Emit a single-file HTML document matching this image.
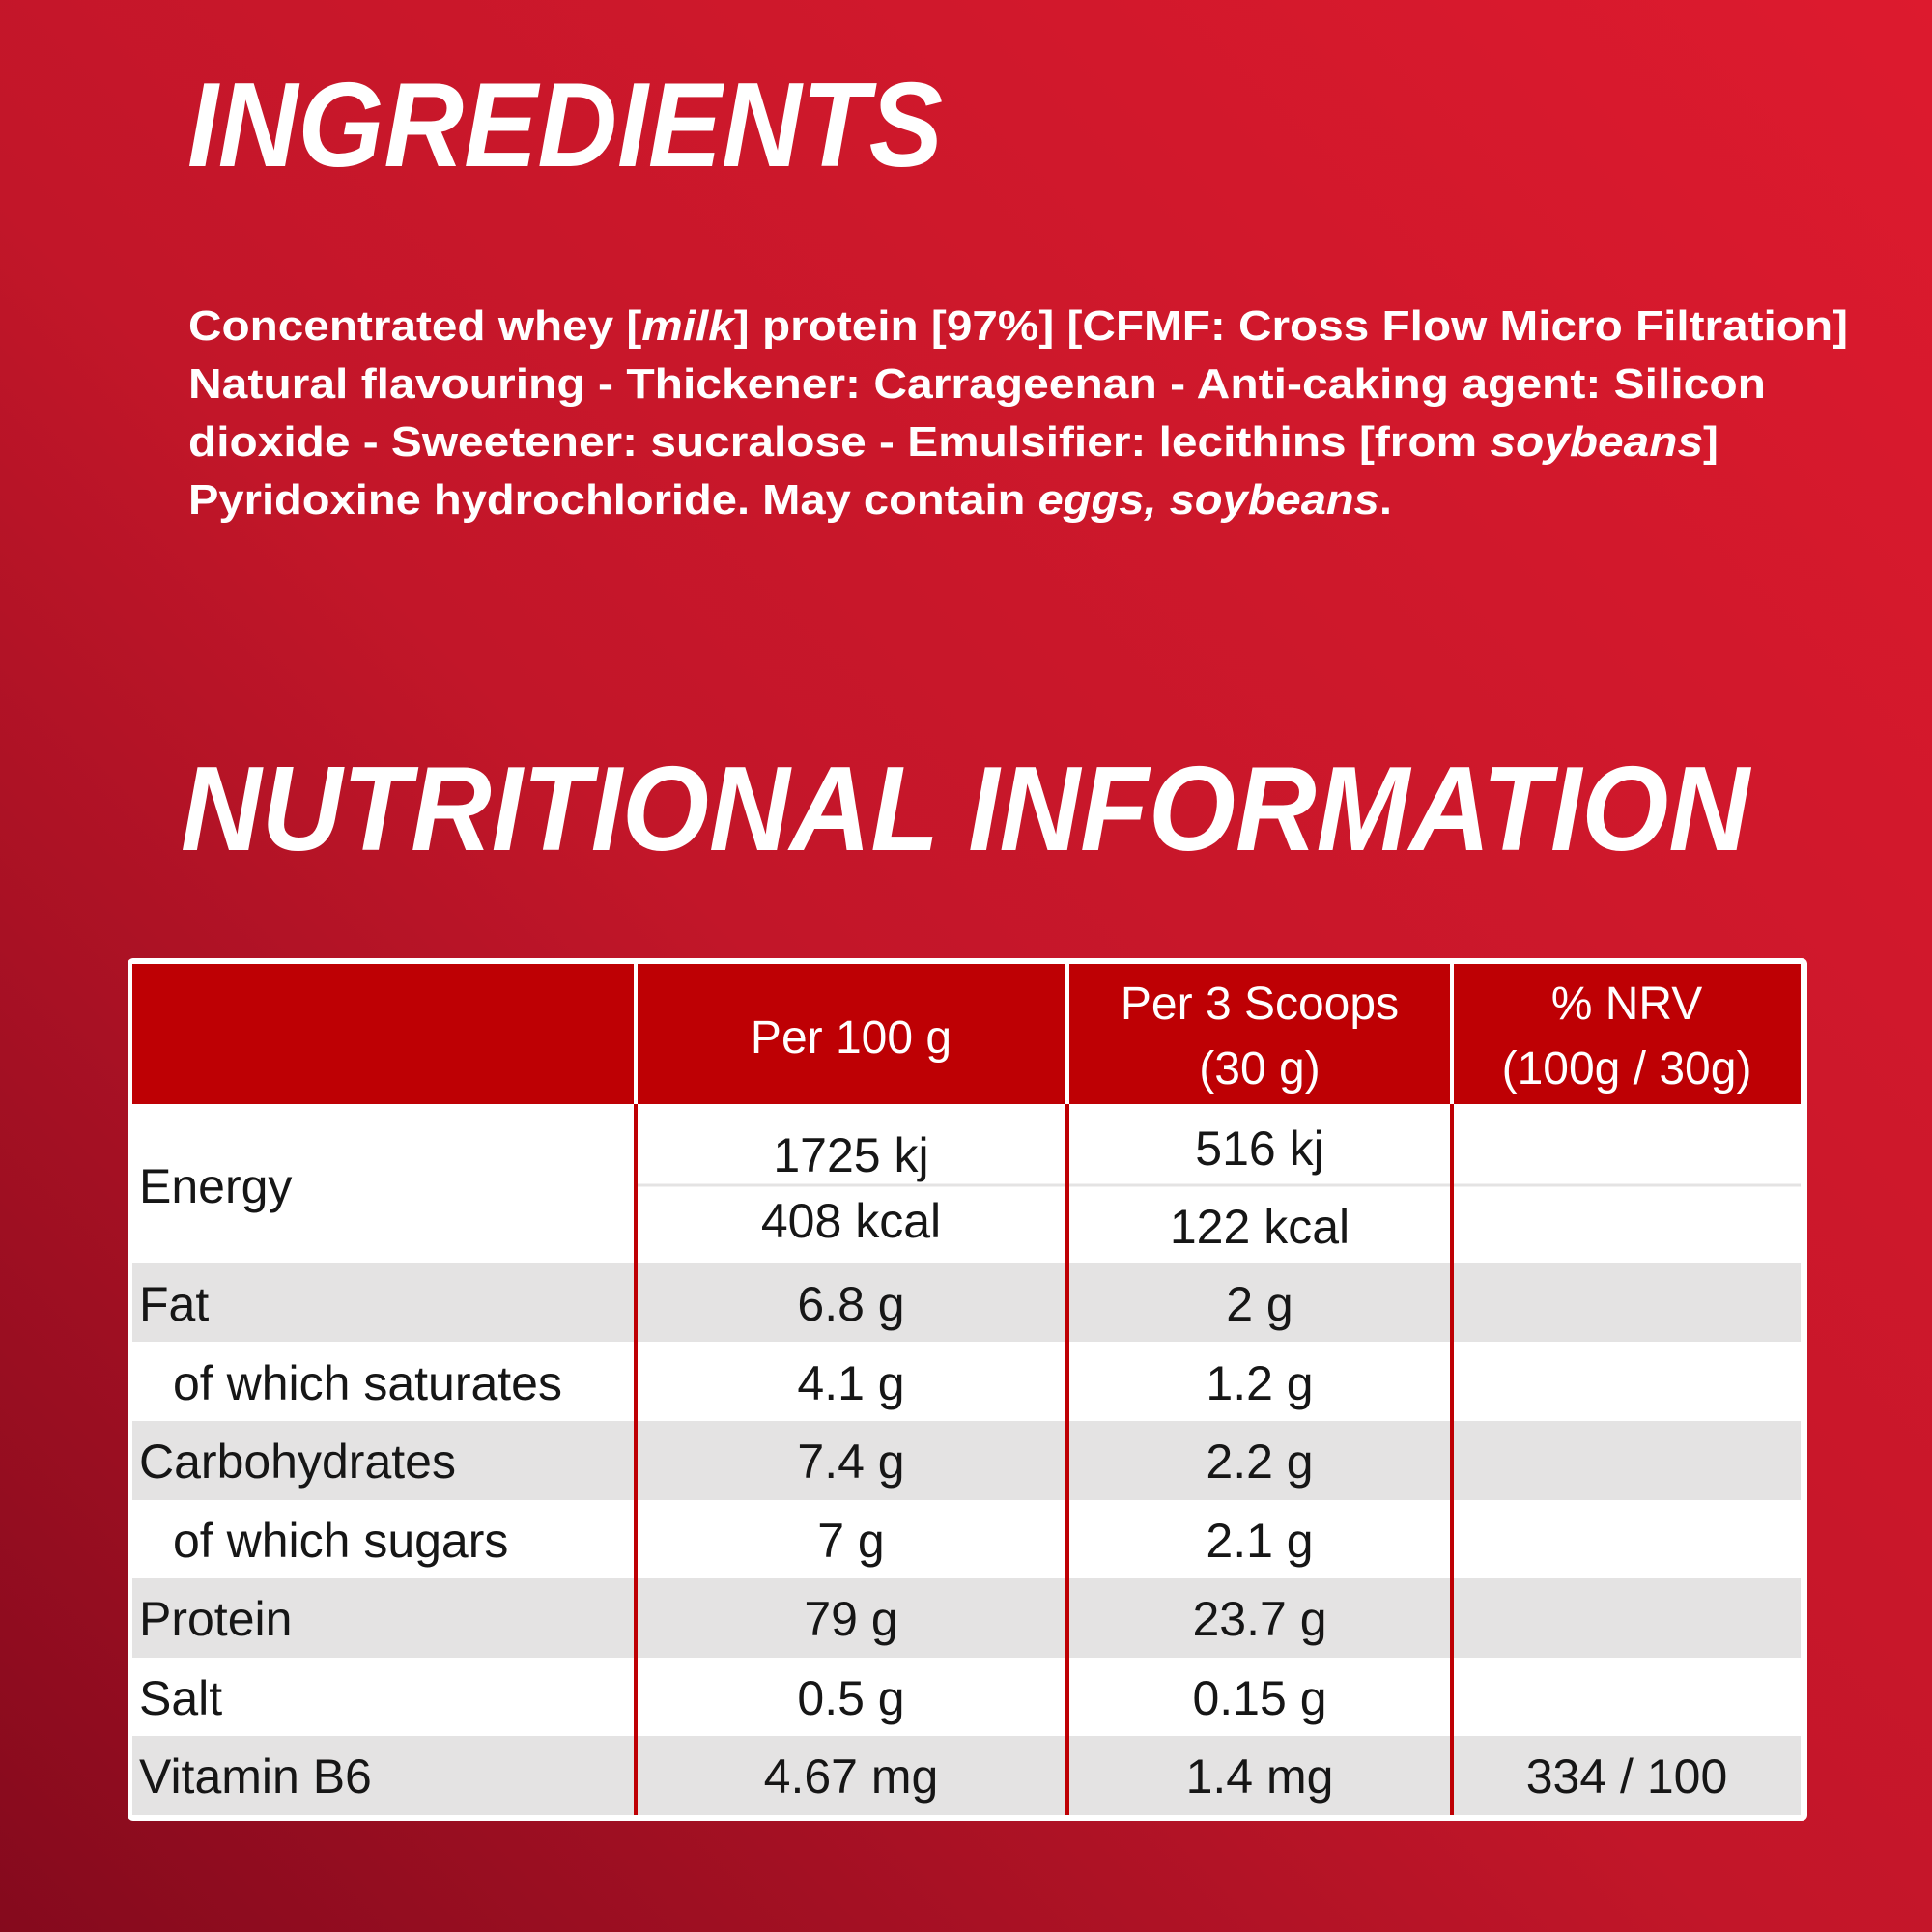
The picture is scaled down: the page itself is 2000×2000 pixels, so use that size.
<!DOCTYPE html>
<html><head><meta charset="utf-8"><style>
html,body{margin:0;padding:0;width:2000px;height:2000px;overflow:hidden}
svg{display:block}
.t{font-family:"Liberation Sans Narrow","Liberation Sans",sans-serif;font-size:50px;fill:#161616}
.h{font-family:"Liberation Sans Narrow","Liberation Sans",sans-serif;font-size:48px;fill:#fff}
.ing{font-family:"Liberation Sans",sans-serif;font-weight:bold;font-size:44px;fill:#fff}
.ttl{font-family:"Liberation Sans",sans-serif;font-weight:bold;font-style:italic;font-size:124px;fill:#fff}
</style></head><body>
<svg width="2000" height="2000" viewBox="0 0 2000 2000" xmlns="http://www.w3.org/2000/svg">
<defs><linearGradient id="bg" x1="0" y1="1" x2="1" y2="0">
<stop offset="0" stop-color="#850a1d"/><stop offset="0.45" stop-color="#c21629"/><stop offset="1" stop-color="#dd1a2e"/></linearGradient></defs>
<rect width="2000" height="2000" fill="url(#bg)"/>
<text class="ttl" x="194" y="172" textLength="782" lengthAdjust="spacingAndGlyphs">INGREDIENTS</text>
<g class="ing">
<text x="195" y="352" textLength="1718" lengthAdjust="spacingAndGlyphs">Concentrated whey [<tspan font-style="italic">milk</tspan>] protein [97%] [CFMF: Cross Flow Micro Filtration]</text>
<text x="195" y="412" textLength="1633" lengthAdjust="spacingAndGlyphs">Natural flavouring - Thickener: Carrageenan - Anti-caking agent: Silicon</text>
<text x="195" y="472" textLength="1584" lengthAdjust="spacingAndGlyphs">dioxide - Sweetener: sucralose - Emulsifier: lecithins [from <tspan font-style="italic">soybeans</tspan>]</text>
<text x="195" y="532" textLength="1246" lengthAdjust="spacingAndGlyphs">Pyridoxine hydrochloride. May contain <tspan font-style="italic">eggs, soybeans</tspan>.</text>
</g>
<text class="ttl" x="187" y="880" textLength="1624" lengthAdjust="spacingAndGlyphs">NUTRITIONAL INFORMATION</text>
<rect x="132" y="992" width="1739" height="893" rx="6" fill="#fff"/>
<rect x="137" y="998" width="1727" height="145" fill="#be0004"/>
<g fill="#e4e3e3">
<rect x="137" y="1307" width="1727" height="82"/>
<rect x="137" y="1471" width="1727" height="82"/>
<rect x="137" y="1634" width="1727" height="82"/>
<rect x="137" y="1797" width="1727" height="82"/>
</g>
<line x1="658" y1="1227" x2="1864" y2="1227" stroke="#e4e3e3" stroke-width="3"/>
<g stroke="#fff" stroke-width="4"><line x1="658" y1="998" x2="658" y2="1143"/><line x1="1105" y1="998" x2="1105" y2="1143"/><line x1="1503" y1="998" x2="1503" y2="1143"/></g>
<g stroke="#be0004" stroke-width="4"><line x1="658" y1="1143" x2="658" y2="1879"/><line x1="1105" y1="1143" x2="1105" y2="1879"/><line x1="1503" y1="1143" x2="1503" y2="1879"/></g>
<g class="h" text-anchor="middle">
<text x="881" y="1090">Per 100 g</text>
<text x="1304" y="1055">Per 3 Scoops</text><text x="1304" y="1122">(30 g)</text>
<text x="1684" y="1055">% NRV</text><text x="1684" y="1122">(100g / 30g)</text>
</g>
<g class="t">
<text x="144" y="1245">Energy</text>
<text x="144" y="1367">Fat</text>
<text x="179" y="1449">of which saturates</text>
<text x="144" y="1530">Carbohydrates</text>
<text x="179" y="1612">of which sugars</text>
<text x="144" y="1693">Protein</text>
<text x="144" y="1775">Salt</text>
<text x="144" y="1856">Vitamin B6</text>
</g>
<g class="t" text-anchor="middle">
<text x="881" y="1213">1725 kj</text><text x="881" y="1281">408 kcal</text>
<text x="881" y="1367">6.8 g</text><text x="881" y="1449">4.1 g</text><text x="881" y="1530">7.4 g</text>
<text x="881" y="1612">7 g</text><text x="881" y="1693">79 g</text><text x="881" y="1775">0.5 g</text><text x="881" y="1856">4.67 mg</text>
<text x="1304" y="1206">516 kj</text><text x="1304" y="1287">122 kcal</text>
<text x="1304" y="1367">2 g</text><text x="1304" y="1449">1.2 g</text><text x="1304" y="1530">2.2 g</text>
<text x="1304" y="1612">2.1 g</text><text x="1304" y="1693">23.7 g</text><text x="1304" y="1775">0.15 g</text><text x="1304" y="1856">1.4 mg</text>
<text x="1684" y="1856">334 / 100</text>
</g>
</svg>
</body></html>
